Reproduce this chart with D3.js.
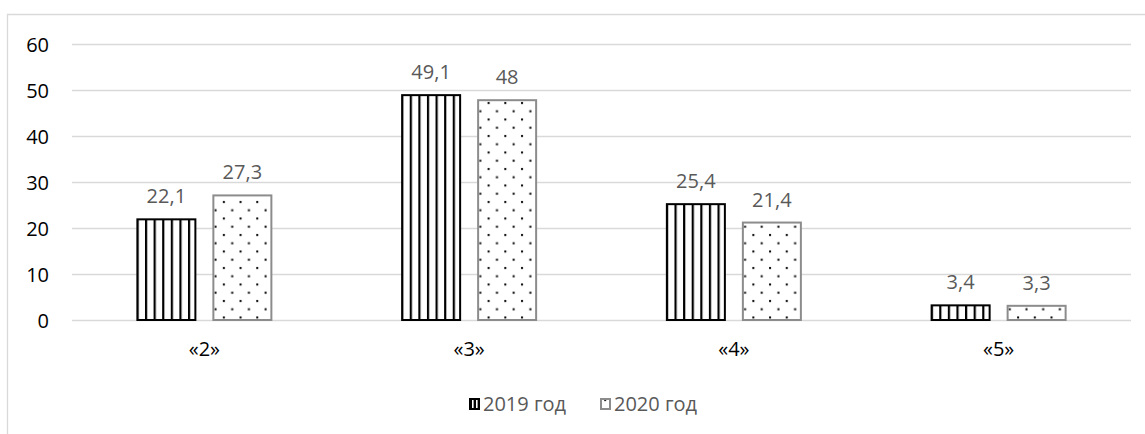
<!DOCTYPE html>
<html><head><meta charset="utf-8">
<script src="https://cdn.jsdelivr.net/npm/d3@7"></script>
<style>
html,body{margin:0;padding:0;background:#fff;}
svg{display:block;}
text{font-family:"Open Sans","Liberation Sans",sans-serif;}
</style></head>
<body>
<svg id="chart" width="1145" height="434"></svg>
<script>
const categories = ["«2»", "«3»", "«4»", "«5»"];
const seriesNames = ["2019 год", "2020 год"];
const values2019 = [22.1, 49.1, 25.4, 3.4];
const values2020 = [27.3, 48, 21.4, 3.3];
const yTicks = [0, 10, 20, 30, 40, 50, 60];
const valueLabels2019 = ["22,1", "49,1", "25,4", "3,4"];
const valueLabels2020 = ["27,3", "48", "21,4", "3,3"];

const svg = d3.select("#chart");
const W = 1145, H = 434;
const plot = {left: 72, right: 1131, top: 44, bottom: 320};

// outer border (chart area)
svg.append("path")
  .attr("d", `M7.5,${H+2} L7.5,14.5 L${W+2},14.5`)
  .attr("fill", "none").attr("stroke", "#d9d9d9").attr("stroke-width", 1.3);

const defs = svg.append("defs");
const stripe = defs.append("pattern").attr("id", "stripes")
  .attr("patternUnits", "userSpaceOnUse").attr("width", 8.6).attr("height", 10);
stripe.append("rect").attr("width", 8.6).attr("height", 10).attr("fill", "#fff");
stripe.append("rect").attr("x", 0).attr("width", 2.2).attr("height", 10).attr("fill", "#000");

const legStripe = defs.append("pattern").attr("id", "legstripes")
  .attr("patternUnits", "userSpaceOnUse").attr("width", 4).attr("height", 10);
legStripe.append("rect").attr("width", 4).attr("height", 10).attr("fill", "#000");
legStripe.append("rect").attr("x", 0).attr("width", 1.6).attr("height", 10).attr("fill", "#fff");

const dots = defs.append("pattern").attr("id", "dots")
  .attr("patternUnits", "userSpaceOnUse").attr("width", 16.7).attr("height", 16.5);
dots.append("rect").attr("width", 16.7).attr("height", 16.5).attr("fill", "#fff");
dots.append("rect").attr("x", 3).attr("y", 3).attr("width", 2).attr("height", 2).attr("fill", "#000");
dots.append("rect").attr("x", 11.35).attr("y", 11.25).attr("width", 2).attr("height", 2).attr("fill", "#000");

const y = d3.scaleLinear().domain([0, 60]).range([plot.bottom, plot.top]);
const x0 = d3.scaleBand().domain(categories).range([plot.left, plot.right]).padding(0);
const groupW = x0.bandwidth() * 0.5137;
const x1 = d3.scaleBand().domain(seriesNames).range([0, groupW]).paddingInner(0.2105).paddingOuter(0);

// gridlines
const yAxis = d3.axisLeft(y).tickValues(yTicks).tickSize(-(plot.right - plot.left)).tickFormat(d3.format("d")).tickPadding(23);
const gy = svg.append("g").attr("transform", `translate(${plot.left},0)`).call(yAxis);
gy.select(".domain").remove();
gy.selectAll(".tick line").attr("stroke", "#d9d9d9").attr("stroke-width", 1.3);
gy.selectAll(".tick text").attr("fill", "#000").attr("font-size", 20).attr("dy", "0.35em");

const data = categories.map((c, i) => ({
  cat: c,
  vals: [
    {s: seriesNames[0], v: values2019[i], lab: valueLabels2019[i]},
    {s: seriesNames[1], v: values2020[i], lab: valueLabels2020[i]}
  ]
}));

const groups = svg.append("g").selectAll("g").data(data).join("g")
  .attr("transform", d => `translate(${x0(d.cat) + (x0.bandwidth() - groupW) / 2},0)`);

groups.selectAll("rect").data(d => d.vals).join("rect")
  .attr("x", d => x1(d.s) + 1)
  .attr("y", d => y(d.v) + 1)
  .attr("width", x1.bandwidth() - 2)
  .attr("height", d => y(0) - y(d.v) - 1)
  .attr("fill", (d, i) => i === 0 ? "url(#stripes)" : "url(#dots)")
  .attr("stroke", (d, i) => i === 0 ? "#000" : "#8c8c8c")
  .attr("stroke-width", 2);

groups.selectAll("text.val").data(d => d.vals).join("text")
  .attr("class", "val")
  .attr("x", d => x1(d.s) + x1.bandwidth() / 2)
  .attr("y", d => y(d.v) - 15)
  .attr("text-anchor", "middle")
  .attr("font-size", 20)
  .attr("fill", "#595959")
  .text(d => d.lab);

// category axis labels
const xAxis = d3.axisBottom(x0).tickSize(0).tickPadding(0);
const gx = svg.append("g").attr("transform", `translate(0,${plot.bottom})`).call(xAxis);
gx.select(".domain").remove();
gx.selectAll(".tick text").attr("fill", "#000").attr("font-size", 20).attr("dy", null).attr("y", 36);

// legend
const legend = svg.append("g");
const legItems = [
  {name: seriesNames[0], x: 469, tx: 483, fill: "url(#legstripes)", stroke: "#000"},
  {name: seriesNames[1], x: 600, tx: 614, fill: "url(#dots)", stroke: "#8c8c8c"}
];
legItems.forEach(it => {
  legend.append("rect").attr("x", it.x + 1).attr("y", 399).attr("width", 9).attr("height", 10)
    .attr("fill", it.fill).attr("stroke", it.stroke).attr("stroke-width", 2);
  legend.append("text").attr("x", it.tx).attr("y", 411).attr("font-size", 20)
    .attr("fill", "#595959").text(it.name);
});
</script>
</body></html>
